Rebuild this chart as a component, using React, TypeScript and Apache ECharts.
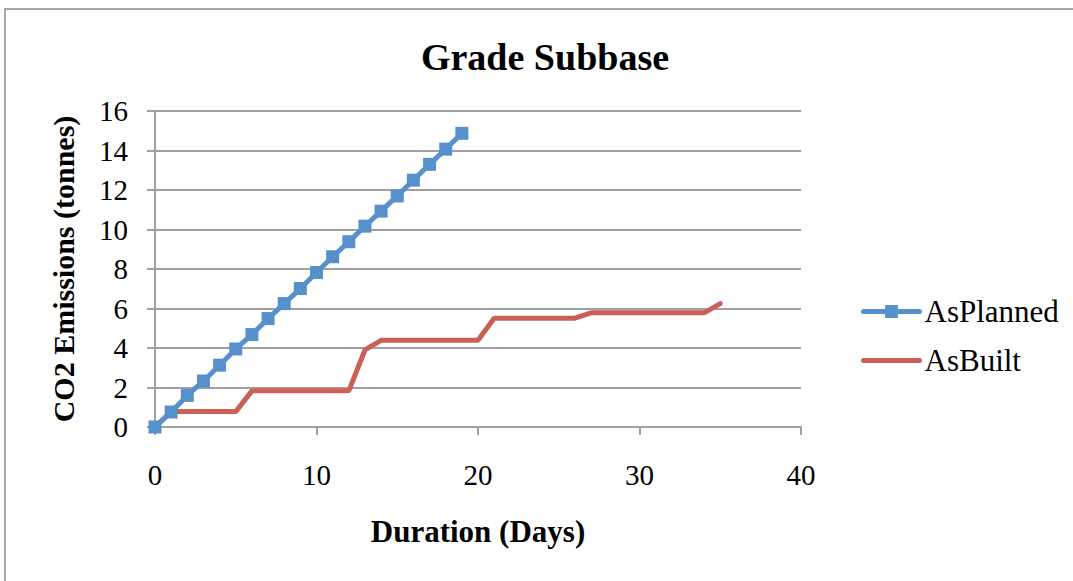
import React, { useEffect, useRef } from "react";
import * as echarts from "echarts";

const plannedDays = [0, 1, 2, 3, 4, 5, 6, 7, 8, 9, 10, 11, 12, 13, 14, 15, 16, 17, 18, 19];
const plannedValues = [0, 0.76, 1.6, 2.33, 3.13, 3.95, 4.68, 5.49, 6.25, 7.01, 7.82, 8.62, 9.38, 10.17, 10.93, 11.7, 12.5, 13.3, 14.07, 14.87];

const builtDays = [0, 1, 2, 3, 4, 5, 6, 7, 8, 9, 10, 11, 12, 13, 14, 15, 16, 17, 18, 19, 20, 21, 22, 23, 24, 25, 26, 27, 28, 29, 30, 31, 32, 33, 34, 35];
const builtValues = [0, 0.78, 0.78, 0.78, 0.78, 0.78, 1.83, 1.83, 1.83, 1.83, 1.83, 1.83, 1.83, 3.9, 4.39, 4.39, 4.39, 4.39, 4.39, 4.39, 4.39, 5.51, 5.51, 5.51, 5.51, 5.51, 5.51, 5.78, 5.78, 5.78, 5.78, 5.78, 5.78, 5.78, 5.78, 6.25];

const seriesNames = ["AsPlanned", "AsBuilt"];
const titleText = "Grade Subbase";
const xAxisName = "Duration (Days)";
const yAxisName = "CO2 Emissions (tonnes)";

const FONT = "'Liberation Serif', 'Times New Roman', serif";
const GRID = "#a0a0a0";
const BLUE = "#5791cc";
const RED = "#cb6058";

export default function App() {
  const ref = useRef<HTMLDivElement>(null);
  useEffect(() => {
    if (!ref.current) return;
    const chart = echarts.init(ref.current, null, { renderer: "svg" });
    chart.setOption({
      animation: false,
      backgroundColor: "#ffffff",
      textStyle: { fontFamily: FONT, color: "#000" },
      title: {
        text: titleText,
        left: 540,
        top: 33,
        textAlign: "center",
        textStyle: { fontFamily: FONT, fontSize: 38, fontWeight: "bold", color: "#000" },
      },
      graphic: [
        {
          type: "rect",
          shape: { x: 5, y: 9, width: 2000, height: 2000 },
          style: { fill: "none", stroke: "#a6a6a6", lineWidth: 2 },
          silent: true,
        },
      ],
      legend: {
        orient: "vertical",
        left: 856,
        top: 291,
        itemWidth: 56,
        itemHeight: 16,
        itemGap: 18,
        textStyle: { fontFamily: FONT, fontSize: 31, color: "#000" },
        data: [
          { name: seriesNames[0], lineStyle: { width: 5, cap: "round", color: BLUE } },
          {
            name: seriesNames[1],
            itemStyle: { opacity: 0 },
            lineStyle: { width: 5, cap: "round", color: RED },
          },
        ],
      },
      grid: { left: 155, right: 272, top: 111, bottom: 154, containLabel: false },
      xAxis: {
        type: "value",
        min: 0,
        max: 40,
        interval: 10,
        name: xAxisName,
        nameLocation: "middle",
        nameGap: 89,
        nameTextStyle: { fontFamily: FONT, fontSize: 31, fontWeight: "bold", color: "#000" },
        axisLine: { show: true, onZero: false, lineStyle: { color: GRID, width: 2 } },
        axisTick: { show: true, inside: false, length: 8, lineStyle: { color: GRID, width: 2 } },
        axisLabel: { margin: 33, fontFamily: FONT, fontSize: 29, color: "#000" },
        splitLine: { show: false },
      },
      yAxis: {
        type: "value",
        min: 0,
        max: 16,
        interval: 2,
        name: yAxisName,
        nameLocation: "middle",
        nameRotate: 90,
        nameGap: 77,
        nameTextStyle: { fontFamily: FONT, fontSize: 30, fontWeight: "bold", color: "#000" },
        axisLine: { show: true, lineStyle: { color: GRID, width: 2 } },
        axisTick: { show: true, inside: false, length: 8, lineStyle: { color: GRID, width: 2 } },
        axisLabel: { margin: 27, fontFamily: FONT, fontSize: 29, color: "#000" },
        splitLine: { show: true, lineStyle: { color: GRID, width: 2 } },
      },
      series: [
        {
          name: seriesNames[0],
          type: "line",
          data: plannedDays.map((d, i) => [d, plannedValues[i]]),
          color: BLUE,
          symbol: "rect",
          symbolSize: 13,
          showSymbol: true,
          lineStyle: { width: 5, color: BLUE },
          itemStyle: { color: BLUE },
          z: 3,
        },
        {
          name: seriesNames[1],
          type: "line",
          data: builtDays.map((d, i) => [d, builtValues[i]]),
          color: RED,
          symbol: "none",
          showSymbol: false,
          lineStyle: { width: 5, color: RED, cap: "round" },
          itemStyle: { color: RED },
          z: 2,
        },
      ],
    });
    return () => chart.dispose();
  }, []);
  return (
    <div
      ref={ref}
      style={{ position: "absolute", left: 0, top: 0, width: 1073, height: 581 }}
    />
  );
}
